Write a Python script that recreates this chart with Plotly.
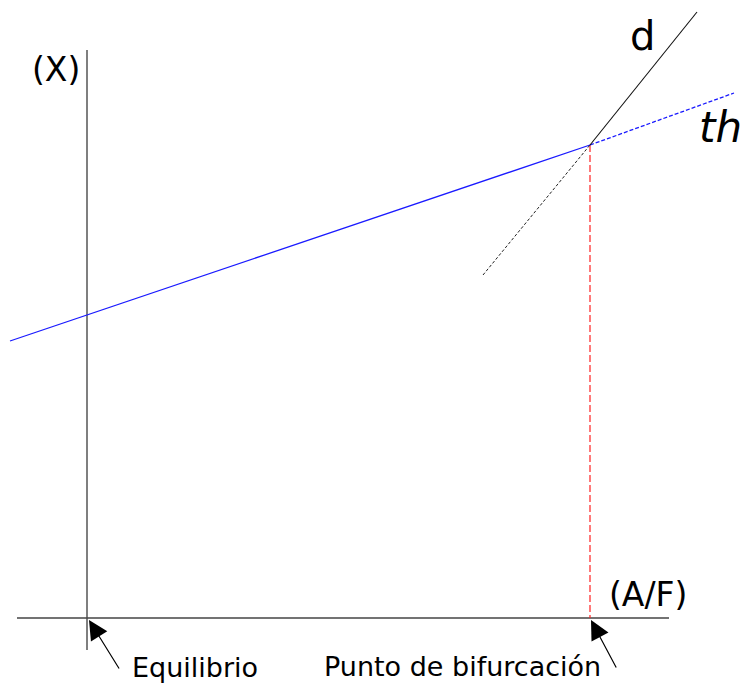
import plotly.graph_objects as go

# Diagram coordinates (canvas units, y grows downward)
axis_y_x = [87, 87]
axis_y_y = [50, 650]
axis_x_x = [17, 669]
axis_x_y = [618, 618]

th_solid_x = [10, 590]
th_solid_y = [341, 145]
th_dash_x = [590, 734]
th_dash_y = [145, 93]

d_solid_x = [590, 697]
d_solid_y = [145, 12]
d_dash_x = [483, 590]
d_dash_y = [275, 145]

bif_x = [590, 590]
bif_y = [145, 618]

labels = ["(X)", "(A/F)", "d", "<i>th</i>"]
label_x = [56, 648, 642, 720]
label_y = [69, 594, 36, 127]
label_size = [33, 33, 40, 42]

arrow_text = ["Equilibrio", "Punto de bifurcación"]
arrow_tip_x = [89, 591]
arrow_tip_y = [620, 620]
arrow_tail_x = [120, 617]
arrow_tail_y = [670, 669]
arrow_text_x = [195, 462]
arrow_text_y = [667, 666]

fig = go.Figure()

def seg(x, y, color, width, dash="solid"):
    fig.add_trace(go.Scatter(x=x, y=y, mode="lines",
                             line=dict(color=color, width=width, dash=dash),
                             hoverinfo="skip", showlegend=False))

seg(axis_y_x, axis_y_y, "#555555", 1.5)
seg(axis_x_x, axis_x_y, "#444444", 1.5)
seg(bif_x, bif_y, "#ff2020", 1.2, "7px,3px")
seg(th_solid_x, th_solid_y, "#1a1aff", 1.3)
seg(th_dash_x, th_dash_y, "#1a1aff", 1.3, "4px,2px")
seg(d_dash_x, d_dash_y, "#222222", 1, "3px,2px")
seg(d_solid_x, d_solid_y, "#111111", 1.1)

for t, x, y, s in zip(labels, label_x, label_y, label_size):
    fig.add_annotation(x=x, y=y, text=t, showarrow=False,
                       font=dict(family="DejaVu Sans", size=s, color="black"),
                       xanchor="center", yanchor="middle")

for t, tx, ty, ax, ay, lx, ly in zip(arrow_text, arrow_tip_x, arrow_tip_y,
                                     arrow_tail_x, arrow_tail_y,
                                     arrow_text_x, arrow_text_y):
    fig.add_annotation(x=tx, y=ty, ax=ax, ay=ay, xref="x", yref="y",
                       axref="x", ayref="y", text="", showarrow=True,
                       arrowhead=2, arrowsize=3.2, arrowwidth=1.2,
                       arrowcolor="black", standoff=0)
    fig.add_annotation(x=lx, y=ly, text=t, showarrow=False,
                       font=dict(family="DejaVu Sans", size=27, color="black"),
                       xanchor="center", yanchor="middle")

fig.update_layout(
    width=741, height=684,
    margin=dict(l=0, r=0, t=0, b=0),
    paper_bgcolor="white", plot_bgcolor="white",
    xaxis=dict(range=[0, 741], visible=False, fixedrange=True),
    yaxis=dict(range=[684, 0], visible=False, fixedrange=True),
)

fig.write_html("out.html", config={"displayModeBar": False},
               post_script="document.body.style.margin='0';document.body.style.overflow='hidden';")
